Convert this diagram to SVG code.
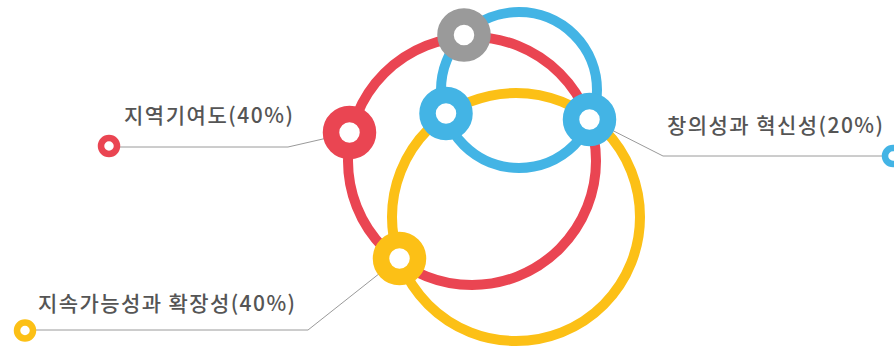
<svg xmlns="http://www.w3.org/2000/svg" width="894" height="351" viewBox="0 0 894 351">
  <style>
    .ring { fill: none; stroke-width: 10; }
    .node { fill: #ffffff; stroke-width: 16.5; }
    .end { fill: #ffffff; stroke-width: 6.5; }
    .conn { fill: none; stroke: #9a9a9a; stroke-width: 1; }
    .lbl { font-family: "Noto Sans CJK KR", "Noto Sans", sans-serif; font-size: 21px; fill: #555555; font-weight: 500; }
    .red { stroke: #ea4552; }
    .yellow { stroke: #fcc016; }
    .blue { stroke: #43b4e5; }
    .gray { stroke: #9a9a9a; }
  </style>
  <rect width="894" height="351" fill="#ffffff"/>
  <g id="rings">
    <circle class="ring red" cx="472" cy="161" r="124"/>
    <circle class="ring yellow" cx="516" cy="217" r="124"/>
    <circle class="ring blue" cx="519" cy="90" r="78"/>
  </g>
  <g id="connectors">
    <polyline class="conn" points="118,147 288,147 349,133"/>
    <polyline class="conn" points="590,119 663,156 886,156"/>
    <polyline class="conn" points="36,330 308,330 399,258"/>
  </g>
  <g id="node-gray"><circle class="node gray" cx="464" cy="35" r="18.5"/></g>
  <g id="node-red"><circle class="node red" cx="349.5" cy="132.5" r="18.5"/></g>
  <g id="node-blue-left"><circle class="node blue" cx="446" cy="113.5" r="18.5"/></g>
  <g id="node-blue-right"><circle class="node blue" cx="589.5" cy="119.5" r="18.5"/></g>
  <g id="node-yellow"><circle class="node yellow" cx="399.5" cy="258.5" r="18.5"/></g>
  <g id="label-red">
    <circle class="end red" cx="109" cy="146" r="8"/>
    <text class="lbl" x="124" y="122.5" textLength="169" lengthAdjust="spacing">지역기여도(40%)</text>
  </g>
  <g id="label-blue">
    <circle class="end blue" cx="893" cy="156" r="8"/>
    <text class="lbl" x="667" y="132.5" textLength="216" lengthAdjust="spacing">창의성과 혁신성(20%)</text>
  </g>
  <g id="label-yellow">
    <circle class="end yellow" cx="25" cy="330.5" r="8"/>
    <text class="lbl" x="38" y="310.5" textLength="257" lengthAdjust="spacing">지속가능성과 확장성(40%)</text>
  </g>
</svg>
